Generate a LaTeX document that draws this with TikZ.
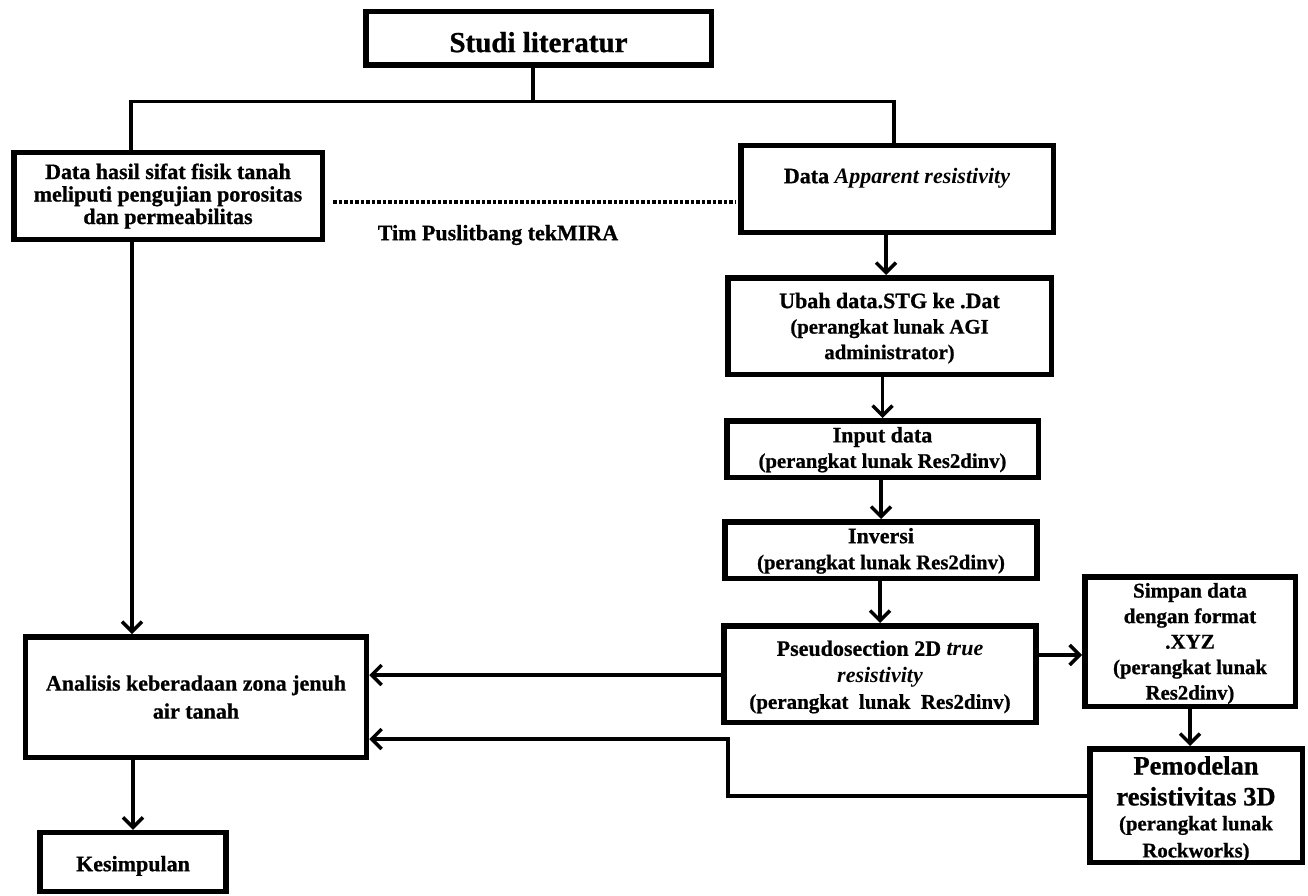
\documentclass[tikz,border=0pt]{standalone}
\usepackage{fontspec}
\setmainfont{Liberation Serif}[BoldFeatures={FakeBold=0.8}]
\usetikzlibrary{arrows.meta}
\newcommand\boxtext[3]{\fontsize{22}{#2}\selectfont\raisebox{#1}[\height][\depth]{\begin{tabular}{@{}c@{}}#3\end{tabular}}}
\newcommand\smallpart[1]{{\fontsize{20.75}{26}\selectfont #1}}
\newcommand\midpart[1]{{\fontsize{21}{26}\selectfont #1}}
\newcommand\bigpart[1]{{\fontsize{26.5}{30}\selectfont #1}}
\begin{document}
\begin{tikzpicture}[x=1pt,y=-1pt,
  flowbox/.style={draw=black, line width=5.5pt, rectangle, inner sep=0pt, font=\bfseries, fill=white},
  conn/.style={line width=3.5pt},
  arr/.style={conn, -{Straight Barb[length=10pt,width=20pt]}},
  note/.style={font=\bfseries\fontsize{22}{26}\selectfont}
]
\fill[white] (0,0) rectangle (1308,896);
\useasboundingbox (0,0) rectangle (1308,896);

% boxes
\node[flowbox, minimum width=345.5pt, minimum height=53.5pt] (top) at (538.5,38.5)
  {\boxtext{-7pt}{33}{\fontsize{29}{33}\selectfont Studi literatur}};
\node[flowbox, minimum width=308.5pt, minimum height=86.5pt] (left) at (168,196)
  {\boxtext{-1pt}{22.5}{Data hasil sifat fisik tanah\\ meliputi pengujian porositas\\ dan permeabilitas}};
\node[flowbox, minimum width=312.5pt, minimum height=86.5pt] (app) at (897,189)
  {\boxtext{11pt}{26}{Data \textit{Apparent resistivity}}};
\node[flowbox, minimum width=323.5pt, minimum height=96.5pt] (ubah) at (889.5,326)
  {\boxtext{-2.5pt}{25.5}{Ubah data.STG ke .Dat\\ \smallpart{(perangkat lunak AGI}\\ \smallpart{administrator)}}};
\node[flowbox, minimum width=311.5pt, minimum height=56.5pt] (input) at (882.5,449)
  {\boxtext{-1pt}{25.5}{Input data\\ \smallpart{(perangkat lunak Res2dinv)}}};
\node[flowbox, minimum width=312pt, minimum height=56.5pt] (inversi) at (881,550)
  {\boxtext{-1pt}{26}{Inversi\\ \smallpart{(perangkat lunak Res2dinv)}}};
\node[flowbox, minimum width=312pt, minimum height=96.5pt] (pseudo) at (880,674)
  {\boxtext{-3pt}{26.5}{Pseudosection 2D \textit{true}\\ \textit{resistivity}\\ \midpart{(perangkat\ \ lunak\ \ Res2dinv)}}};
\node[flowbox, minimum width=210.5pt, minimum height=129.5pt] (simpan) at (1190,641.5)
  {\boxtext{-2pt}{25.5}{\midpart{Simpan data}\\ \midpart{dengan format}\\ \midpart{.XYZ}\\ \smallpart{(perangkat lunak}\\ \smallpart{Res2dinv)}}};
\node[flowbox, minimum width=212.5pt, minimum height=113.5pt] (pemod) at (1196,805.5)
  {\boxtext{-5pt}{25}{\bigpart{Pemodelan}\\[5pt] \bigpart{resistivitas 3D}\\ \smallpart{(perangkat lunak}\\[2pt] \smallpart{Rockworks)}}};
\node[flowbox, minimum width=341pt, minimum height=120.5pt] (analisis) at (196,697)
  {\boxtext{-2pt}{28}{Analisis keberadaan zona jenuh\\ air tanah}};
\node[flowbox, minimum width=186pt, minimum height=59pt] (kesimp) at (133,862)
  {\boxtext{-4pt}{26}{Kesimpulan}};
\node[note] (tim) at (498,235) {Tim Puslitbang tekMIRA};

% helper coordinates
\coordinate (j) at (533,101.5);
\coordinate (jl) at (131,101.5);
\coordinate (jr) at (894,101.5);
\coordinate (x886) at (886,0);
\coordinate (x132) at (132,0);
\coordinate (y655) at (0,655);
\coordinate (y675) at (0,675);
\coordinate (b1) at (728,796);
\coordinate (b2) at (728,739);

% connectors
\draw[conn] (top.south -| j) -- (j);
\draw[conn] (left.north -| jl) -- (jl) -- (jr) -- (app.north -| jr);
\draw[conn, dotted, shorten <=8pt, shorten >=2pt] ([yshift=-6pt]left.east) -- ([yshift=-6pt]left.east -| app.west);
\draw[arr] (app.south -| x886) -- (ubah.north -| x886);
\draw[arr] (ubah.south -| input.north) -- (input.north);
\draw[arr] (input.south -| inversi.north) -- (inversi.north);
\draw[arr] (inversi.south -| pseudo.north) -- (pseudo.north);
\draw[arr] (pseudo.east |- y655) -- (simpan.west |- y655);
\draw[arr] (simpan.south) -- (simpan.south |- pemod.north);
\draw[arr] (pseudo.west |- y675) -- (analisis.east |- y675);
\draw[arr] (pemod.west |- b1) -- (b1) -- (b2) -- (analisis.east |- b2);
\draw[arr] (left.south -| x132) -- (analisis.north -| x132);
\draw[arr] (analisis.south -| kesimp.north) -- (kesimp.north);
\end{tikzpicture}
\end{document}
